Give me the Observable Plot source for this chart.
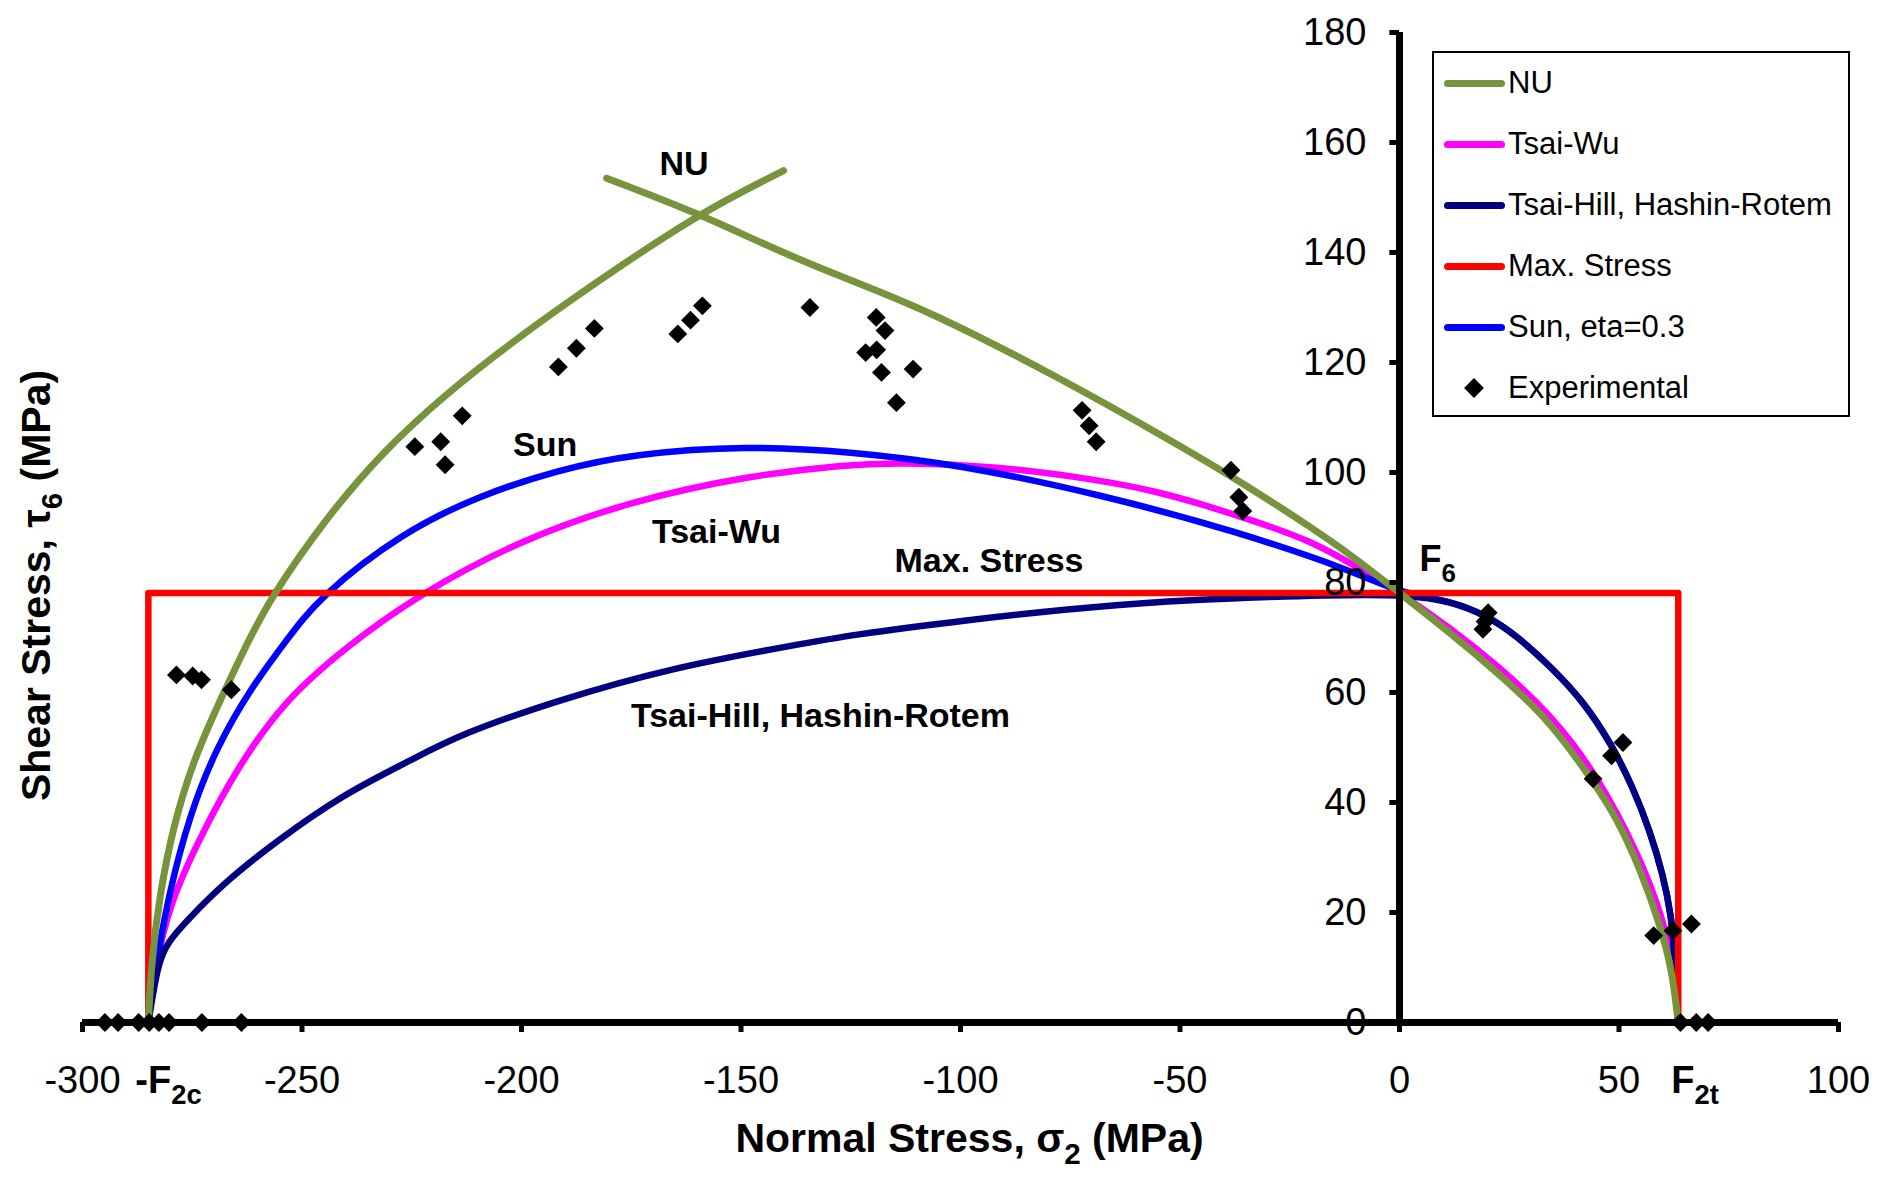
<!DOCTYPE html>
<html>
<head>
<meta charset="utf-8">
<script src="https://cdn.jsdelivr.net/npm/d3@7"></script>
<script src="https://cdn.jsdelivr.net/npm/@observablehq/plot@0.6"></script>
<style>
  html, body { margin: 0; padding: 0; background: #fff; }
  body { font-family: "Liberation Sans", Arial, sans-serif; }
  #wrap { position: relative; width: 1892px; height: 1181px; overflow: hidden; }
  #chart svg { display: block; }
  #legend { position: absolute; left: 1432px; top: 51px; width: 414px; height: 362px;
            border: 2px solid #000; background: #fff; box-sizing: content-box; }
  .item { position: absolute; left: 0; width: 414px; height: 40px; }
  .sw { position: absolute; left: 10px; top: 16.5px; width: 61px; height: 7px; border-radius: 3.5px; }
  .dia { position: absolute; left: 33px; top: 13px; width: 14px; height: 14px; background: #000; transform: rotate(45deg); }
  .lab { position: absolute; left: 74px; top: 0; line-height: 40px; font-size: 31px; color: #000; white-space: nowrap; }
</style>
</head>
<body>
<div id="wrap"><div id="chart"></div><div id="legend"></div></div>
<script>
// ---------- data ----------
const xTicks = [-300, -250, -200, -150, -100, -50, 0, 50, 100];
const yTicks = [0, 20, 40, 60, 80, 100, 120, 140, 160, 180];

const F2c = -285;   // compressive transverse strength (shown as -F2c)
const F2t = 63.5;   // tensile transverse strength
const F6 = 78.1;    // in-plane shear strength

// NU criterion, compressive branch
const nuCompX = [-285, -284.3, -282.4, -279.4, -274.8, -268.7, -262.6, -257.1, -244.5, -231.4, -218.3, -200.9, -183.5, -159.9, -140.3];
const nuCompY = [0, 11.2, 23.3, 35.5, 47.6, 58.5, 68.8, 77.3, 91.8, 103.9, 113.6, 124.5, 134.3, 147.0, 154.9];
// NU criterion, second branch
const nuTensX = [-180.6, -160.2, -141.6, -125.3, -108, -76.1, -52.1, -38.4, -22.7, -11.3, 0, 11.5, 22.8, 34.2, 44.1, 49.4, 54.7, 59.3, 62, 63.5];
const nuTensY = [153.5, 147.3, 140.3, 135.0, 129.7, 116.7, 105.8, 99.4, 91.4, 85.2, 78.1, 70.9, 63.3, 54.9, 43.9, 37.3, 28.2, 17.9, 10, 0];

// Tsai-Wu
const twX = [-285, -283.5, -280, -273, -265, -254.1, -240.1, -224.4, -200.9, -174.7, -148.6, -125.3, -114.1, -92, -68.1, -55.5, -44.1, -37.5, -19.5, -6, 0, 11.5, 22.8, 34.2, 44.9, 54.7, 60, 62.5, 63.5];
const twY = [0, 10, 22, 34, 46, 58.5, 68.2, 77.3, 87.6, 94.9, 99.4, 101.5, 101.8, 101.2, 98.6, 96.6, 94.0, 92.3, 87.6, 81.0, 78.1, 71.8, 64.6, 56.2, 45.2, 30.2, 19, 10, 0];

// Tsai-Hill, Hashin-Rotem
const thX = [-285, -284, -282.6, -280.6, -276.3, -267.2, -255.8, -240.6, -225.4, -214, -192.1, -166, -136.6, -125.3, -100.6, -64.6, -28.5, 0, 11.5, 20.2, 26.7, 34.2, 41.8, 48.3, 53.2, 57, 60, 62, 62.7, 63.5];
const thY = [0, 5, 11, 14.6, 18.5, 25.8, 33, 41.5, 47.6, 52.4, 58.5, 64.5, 68.8, 70.4, 73.0, 76.2, 77.5, 78.0, 76.7, 73.9, 70.3, 64.9, 58.5, 50.6, 42.7, 34.9, 27, 19.1, 11.8, 0];

// Max. Stress
const msX = [F2c, F2c, F2t, F2t];
const msY = [0, F6, F6, 0];

// Sun, eta = 0.3
const sunX = [-285, -283.8, -280.5, -275.5, -269.5, -261.5, -253.5, -246.2, -227, -209.6, -192.1, -174.7, -148.6, -125.3, -100.6, -68.1, -37.5, -10.5, 0, 11.5, 20.2, 26.7, 34.2, 41.8, 48.3, 53.2, 57, 60, 62, 62.7, 63.5];
const sunY = [0, 8, 23, 38, 50, 61, 69.5, 77.3, 89.2, 95.8, 100.4, 103.4, 104.9, 103.8, 101.5, 96, 89.4, 82.1, 78.1, 76.7, 73.9, 70.3, 64.9, 58.5, 50.6, 42.7, 34.9, 27, 19.1, 11.8, 0];

// Experimental points
const expX = [-294.9, -291.9, -287.2, -284.8, -282.6, -280.3, -272.8, -263.8,
              -278.6, -274.9, -272.9, -266.1,
              -224.3, -218.4, -217.4, -213.5, -191.6, -187.5, -183.4, -164.4, -161.5, -158.8,
              -134.3, -119.2, -117.2, -121.6, -119.1, -118, -110.8, -114.6,
              -72.3, -70.7, -69.1, -38.4, -36.6, -35.7,
              20.2, 19.5, 19.0, 50.9, 48.3, 44.1, 57.9, 62.3, 66.5,
              64.0, 67.6, 70.3];
const expY = [0, 0, 0, 0, 0, 0, 0, 0,
              63.2, 63.0, 62.3, 60.5,
              104.7, 105.6, 101.4, 110.3, 119.2, 122.6, 126.2, 125.2, 127.7, 130.3,
              130.0, 128.2, 125.8, 121.8, 122.3, 118.2, 118.8, 112.7,
              111.3, 108.5, 105.6, 100.4, 95.5, 93.0,
              74.5, 72.9, 71.5, 50.9, 48.5, 44.3, 15.8, 16.7, 17.9,
              0, 0, 0];

const seriesNames = ["NU", "Tsai-Wu", "Tsai-Hill, Hashin-Rotem", "Max. Stress", "Sun, eta=0.3", "Experimental"];
const seriesColors = ["#77933C", "#FF00FF", "#000080", "#FF0000", "#0000FF", "#000000"];

const noteText = ["NU", "Sun", "Tsai-Wu", "Max. Stress", "Tsai-Hill, Hashin-Rotem"];
const noteX = [-163, -194.6, -155.6, -93.5, -131.9];
const noteY = [156.1, 105.0, 89.2, 83.8, 55.7];

// ---------- build rows ----------
const rows = (xs, ys) => xs.map((x, i) => ({x, y: ys[i]}));
const nuComp = rows(nuCompX, nuCompY);
const nuTens = rows(nuTensX, nuTensY);
const tw = rows(twX, twY);
const th = rows(thX, thY);
const ms = rows(msX, msY);
const sun = rows(sunX, sunY);
const exp = rows(expX, expY);
const notes = noteText.map((t, i) => ({t, x: noteX[i], y: noteY[i]}));

const lw = 6.5;
const cv = "basis";
const chart = Plot.plot({
  width: 1892,
  height: 1181,
  marginLeft: 82,
  marginRight: 54,
  marginTop: 32,
  marginBottom: 159,
  x: {domain: [-300, 100]},
  y: {domain: [0, 180], axis: null},
  style: {fontFamily: "'Liberation Sans', Arial, sans-serif", background: "#fff", color: "#000"},
  marks: [
    Plot.line(tw, {x: "x", y: "y", stroke: seriesColors[1], strokeWidth: lw, curve: cv}),
    Plot.line(sun, {x: "x", y: "y", stroke: seriesColors[4], strokeWidth: lw, curve: cv}),
    Plot.line(th, {x: "x", y: "y", stroke: seriesColors[2], strokeWidth: lw, curve: cv}),
    Plot.line(ms, {x: "x", y: "y", stroke: seriesColors[3], strokeWidth: lw, strokeLinejoin: "round"}),
    Plot.line(nuComp, {x: "x", y: "y", stroke: seriesColors[0], strokeWidth: 7, curve: cv, strokeLinecap: "round"}),
    Plot.line(nuTens, {x: "x", y: "y", stroke: seriesColors[0], strokeWidth: 7, curve: cv, strokeLinecap: "round"}),
    // axes
    Plot.axisX(xTicks, {tickSize: 10, tickPadding: 34, fontSize: 38, strokeWidth: 5, tickFormat: d => String(d), label: null}),
    Plot.ruleY([0], {stroke: "#000", strokeWidth: 7}),
    Plot.ruleX([0], {y1: 0, y2: 180, stroke: "#000", strokeWidth: 7}),
    Plot.ruleY(yTicks, {y: d => d, x1: -2.2, x2: 0, stroke: "#000", strokeWidth: 5}),
    Plot.text(yTicks, {x: 0, y: d => d, text: d => String(d), dx: -33, textAnchor: "end", fontSize: 38}),
    // experimental points
    Plot.dot(exp, {x: "x", y: "y", symbol: "diamond2", r: 8.5, fill: "#000", stroke: "none"}),
    // annotations
    Plot.text(notes, {x: "x", y: "y", text: "t", fontSize: 34, fontWeight: "bold"}),
    Plot.text([{x: 0, y: F6, t: "F_{6}"}], {x: "x", y: "y", text: "t", dx: 20, dy: -22, lineAnchor: "bottom", textAnchor: "start", fontSize: 36, fontWeight: "bold"}),
    Plot.text([{x: F2c, y: 0, t: "-F_{2c}"}], {x: "x", y: "y", text: "t", dx: -13, dy: 58, textAnchor: "start", lineAnchor: "middle", fontSize: 38, fontWeight: "bold"}),
    Plot.text([{x: F2t, y: 0, t: "F_{2t}"}], {x: "x", y: "y", text: "t", dx: -7, dy: 58, textAnchor: "start", lineAnchor: "middle", fontSize: 38, fontWeight: "bold"}),
    // axis titles
    Plot.text(["Normal Stress, σ_{2} (MPa)"], {frameAnchor: "bottom", dx: 9, dy: 116, textAnchor: "middle", lineAnchor: "middle", fontSize: 41, fontWeight: "bold"}),
    Plot.text(["Shear Stress, τ_{6} (MPa)"], {frameAnchor: "left", rotate: -90, dx: -46, dy: 58, textAnchor: "middle", lineAnchor: "middle", fontSize: 41, fontWeight: "bold"})
  ]
});
document.getElementById("chart").appendChild(chart);

// subscripts: "_{...}"
function applySubscripts(root) {
  const ns = "http://www.w3.org/2000/svg";
  root.querySelectorAll("text").forEach(t => {
    const s = t.textContent;
    if (!s.includes("_{")) return;
    const fs = parseFloat(getComputedStyle(t).fontSize) || 30;
    const parts = s.split(/(_\{[^}]*\})/).filter(p => p.length);
    while (t.firstChild) t.removeChild(t.firstChild);
    let shifted = 0;
    parts.forEach(p => {
      const sp = document.createElementNS(ns, "tspan");
      if (p.startsWith("_{")) {
        sp.textContent = p.slice(2, -1);
        sp.setAttribute("font-size", (fs * 0.72) + "px");
        sp.setAttribute("dy", (fs * 0.3 - shifted) + "px");
        shifted = fs * 0.3;
      } else {
        sp.textContent = p;
        if (shifted) { sp.setAttribute("dy", (-shifted) + "px"); shifted = 0; }
      }
      t.appendChild(sp);
    });
  });
}
applySubscripts(document.getElementById("chart"));

// legend
const legend = document.getElementById("legend");
seriesNames.forEach((name, i) => {
  const item = document.createElement("div");
  item.className = "item";
  item.style.top = (10 + i * 61) + "px";
  const mark = document.createElement("div");
  if (name === "Experimental") {
    mark.className = "dia";
  } else {
    mark.className = "sw";
    mark.style.background = seriesColors[i];
  }
  const lab = document.createElement("div");
  lab.className = "lab";
  lab.textContent = name;
  item.appendChild(mark);
  item.appendChild(lab);
  legend.appendChild(item);
});
</script>
</body>
</html>
